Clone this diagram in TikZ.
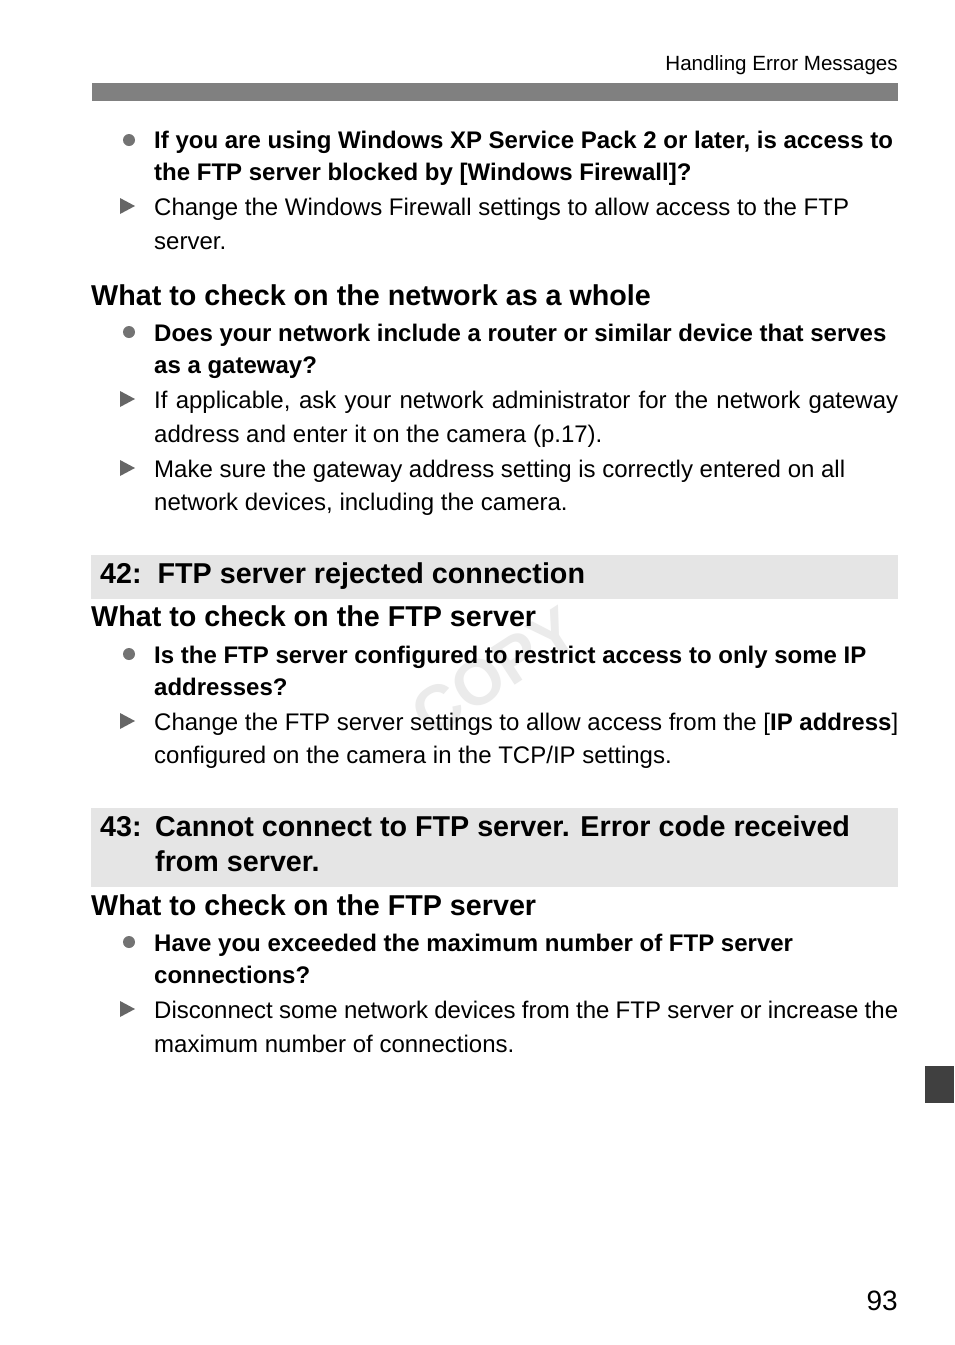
\documentclass[tikz,border=0pt]{standalone}
\usepackage{fontspec}
\setmainfont{Liberation Sans}
\begin{document}
\begin{tikzpicture}[x=1pt,y=-1pt,
  body/.style={anchor=base west,inner sep=0pt,font=\fontsize{24}{26}\selectfont},
  bbody/.style={body,font=\fontsize{24}{26}\selectfont\bfseries},
  head/.style={anchor=base west,inner sep=0pt,font=\fontsize{28.7}{30}\selectfont\bfseries}]
\useasboundingbox (0,0) rectangle (954,1345);
\fill[white] (0,0) rectangle (954,1345);
\newcommand{\bul}[1]{\fill[black!55] (129,#1) circle (6);}
\newcommand{\tri}[1]{\fill[black!60] (120,#1-8) -- (135,#1) -- (120,#1+8) -- cycle;}
\newcommand{\js}[1]{\makebox[744pt][s]{#1}}
\node[rotate=33,text=black!8,font=\fontsize{64}{64}\selectfont\bfseries] (wm) at (495,672) {COPY};
\node[anchor=base east,inner sep=0pt,font=\fontsize{20.6}{22}\selectfont] (hdr) at (898,70) {Handling Error Messages};
\fill[black!50] (92,83) rectangle (898,101);
\bul{140}
\node[bbody] (a1) at (154,148) {If you are using Windows XP Service Pack 2 or later, is access to};
\node[bbody] (a2) at (154,180) {the FTP server blocked by [Windows Firewall]?};
\tri{206}
\node[body] (a3) at (154,215) {Change the Windows Firewall settings to allow access to the FTP};
\node[body] (a4) at (154,249) {server.};
\node[head] (h1) at (91,305) {What to check on the network as a whole};
\bul{332}
\node[bbody] (b1) at (154,341) {Does your network include a router or similar device that serves};
\node[bbody] (b2) at (154,373) {as a gateway?};
\tri{399}
\node[body] (b3) at (154,408) {\js{If applicable, ask your network administrator for the network gateway}};
\node[body] (b4) at (154,442) {address and enter it on the camera (p.17).};
\tri{468}
\node[body] (b5) at (154,477) {Make sure the gateway address setting is correctly entered on all};
\node[body] (b6) at (154,510) {network devices, including the camera.};
\fill[black!10] (91,555) rectangle (898,599);
\node[head] (e42) at (100,583) {42:\ \ FTP server rejected connection};
\node[head] (h2) at (91,626) {What to check on the FTP server};
\bul{654}
\node[bbody] (c1) at (154,663) {Is the FTP server configured to restrict access to only some IP};
\node[bbody] (c2) at (154,695) {addresses?};
\tri{721}
\node[body] (c3) at (154,730) {\js{Change the FTP server settings to allow access from the [\textbf{IP address}]}};
\node[body] (c4) at (154,763) {configured on the camera in the TCP/IP settings.};
\fill[black!10] (91,808) rectangle (898,887);
\node[head] (e43) at (100,836) {43:};
\node[head] (e43a) at (155,836) {Cannot connect to FTP server. Error code received};
\node[head] (e43b) at (155,871) {from server.};
\node[head] (h3) at (91,915) {What to check on the FTP server};
\bul{942}
\node[bbody] (d1) at (154,951) {Have you exceeded the maximum number of FTP server};
\node[bbody] (d2) at (154,983) {connections?};
\tri{1009}
\node[body] (d3) at (154,1018) {\js{Disconnect some network devices from the FTP server or increase the}};
\node[body] (d4) at (154,1052) {maximum number of connections.};
\fill[black!75] (925,1066) rectangle (954,1103);
\node[anchor=base east,inner sep=0pt,font=\fontsize{28}{30}\selectfont] (pg) at (898,1310) {93};
\end{tikzpicture}
\end{document}
